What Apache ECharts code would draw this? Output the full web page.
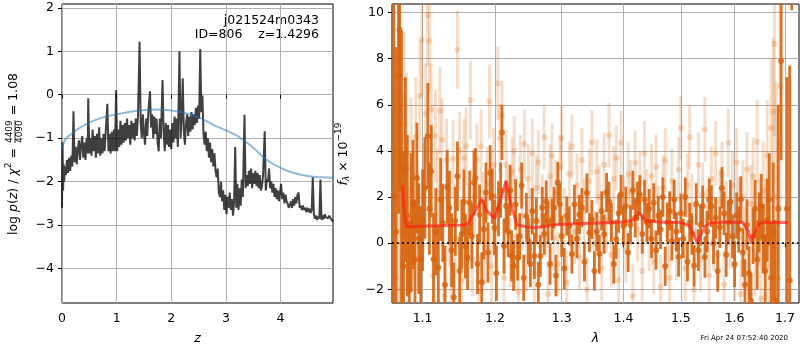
<!DOCTYPE html>
<html><head><meta charset="utf-8">
<script src="https://cdn.jsdelivr.net/npm/echarts@6/dist/echarts.min.js"></script>
<style>html,body{margin:0;padding:0;background:#fff}#c{width:800px;height:350px}</style>
</head><body><div id="c"></div>
<script>
// ---------- left panel: log p(z) ----------
const pzCurve = [
[0.00,-2.6],[0.01,-1.1],[0.02,-2.2],[0.03,-1.6],[0.04,-2.0],[0.05,-1.65],[0.07,-1.85],[0.09,-1.5],[0.11,-1.8],[0.13,-1.45],
[0.15,-1.75],[0.17,-1.4],[0.19,-1.65],[0.21,-0.38],[0.23,-1.55],[0.25,-1.2],[0.27,-1.6],[0.29,-1.25],[0.31,-1.05],[0.33,-1.5],
[0.35,-1.15],[0.37,-0.95],[0.39,-1.45],[0.41,-1.1],[0.43,-1.5],[0.45,-1.0],[0.47,-1.35],[0.48,-0.08],[0.50,-1.35],[0.52,-1.0],
[0.54,-1.4],[0.56,-0.8],[0.58,-1.3],[0.60,-0.95],[0.62,-1.45],[0.64,-0.9],[0.66,-1.35],[0.68,-0.75],[0.70,-1.4],[0.72,-1.0],
[0.74,-1.35],[0.76,-0.9],[0.78,-1.3],[0.80,-0.85],[0.83,-0.21],[0.85,-1.3],[0.87,-0.9],[0.89,-1.35],[0.91,-0.85],[0.93,-1.3],
[0.95,-0.8],[0.97,-1.3],[0.99,0.10],[1.01,-1.3],[1.03,-0.8],[1.05,-1.2],[1.07,-0.6],[1.09,-1.15],[1.11,-0.7],[1.13,-1.1],
[1.15,-0.65],[1.17,-1.05],[1.19,-0.55],[1.21,-1.0],[1.23,-0.7],[1.25,-1.15],[1.27,-0.6],[1.29,-1.0],[1.31,-0.65],[1.33,-1.05],
[1.35,-0.55],[1.37,-0.95],[1.39,-0.5],[1.42,1.22],[1.44,-0.65],[1.46,-1.0],[1.48,-0.45],[1.50,-0.9],[1.52,-1.15],[1.54,-0.55],
[1.56,-0.95],[1.58,-0.4],[1.61,0.08],[1.63,-0.75],[1.65,-0.45],[1.67,-1.0],[1.69,-0.5],[1.71,-0.9],[1.73,-0.55],[1.75,-1.1],
[1.77,-1.3],[1.79,-0.55],[1.81,-1.0],[1.84,0.34],[1.86,-0.85],[1.88,-1.3],[1.90,-0.65],[1.92,-1.15],[1.94,-0.7],[1.96,-1.2],
[1.98,-0.8],[2.00,-1.25],[2.02,-0.65],[2.04,-1.1],[2.06,-0.5],[2.08,-1.0],[2.10,-0.55],[2.12,-1.2],[2.15,1.0],[2.17,-1.0],
[2.19,-0.55],[2.21,0.38],[2.23,-0.85],[2.25,-1.15],[2.27,-0.65],[2.29,-0.45],[2.31,-0.95],[2.33,-0.5],[2.35,-0.85],[2.37,-0.4],
[2.39,-0.8],[2.41,-0.45],[2.43,-0.7],[2.45,-0.3],[2.47,-0.65],[2.49,-0.25],[2.51,-0.55],[2.53,1.05],[2.55,-0.4],[2.57,-0.02],
[2.59,-0.9],[2.61,-1.15],[2.63,-0.85],[2.65,-1.3],[2.67,-1.0],[2.69,-1.45],[2.71,-1.1],[2.73,-1.55],[2.75,-1.25],[2.77,-1.65],
[2.79,-1.35],[2.81,-1.75],[2.83,-1.9],[2.85,-1.7],[2.87,-2.25],[2.89,-2.35],[2.91,-2.0],[2.93,-2.45],[2.95,-2.2],[2.97,-2.65],
[2.99,-2.3],[3.01,-2.75],[3.03,-2.35],[3.05,-2.6],[3.07,-2.25],[3.09,-2.65],[3.11,-2.4],[3.13,-2.78],[3.15,-2.45],[3.17,-1.2],
[3.19,-2.6],[3.21,-2.05],[3.23,-2.65],[3.25,-2.15],[3.27,-2.55],[3.29,-1.95],[3.31,-2.35],[3.34,-0.46],[3.36,-2.15],[3.38,-1.85],
[3.40,-2.1],[3.42,-1.75],[3.44,-2.05],[3.46,-1.7],[3.48,-2.15],[3.50,-1.8],[3.52,-2.05],[3.54,-1.75],[3.56,-2.1],[3.58,-1.8],
[3.60,-2.15],[3.62,-1.85],[3.64,-2.2],[3.66,-2.1],[3.68,-1.85],[3.71,-0.84],[3.73,-2.2],[3.75,-1.95],[3.77,-2.0],[3.79,-1.7],
[3.81,-2.15],[3.83,-2.0],[3.85,-2.25],[3.87,-2.05],[3.89,-2.35],[3.91,-2.15],[3.93,-2.4],[3.95,-2.2],[3.97,-2.45],[3.99,-2.25],
[4.01,-2.05],[4.03,-2.4],[4.05,-2.25],[4.07,-2.5],[4.09,-2.3],[4.11,-2.45],[4.13,-2.5],[4.15,-2.6],[4.17,-2.55],[4.19,-2.45],
[4.21,-2.6],[4.23,-2.4],[4.25,-2.55],[4.27,-2.35],[4.29,-2.5],[4.31,-2.3],[4.33,-2.25],[4.35,-2.6],[4.37,-2.55],[4.39,-2.65],
[4.41,-2.55],[4.43,-2.65],[4.45,-2.6],[4.47,-2.7],[4.49,-2.6],[4.51,-2.7],[4.53,-2.62],[4.55,-2.72],[4.57,-2.65],[4.59,-1.9],
[4.61,-2.75],[4.63,-2.85],[4.65,-2.78],[4.67,-2.88],[4.69,-2.8],[4.71,-2.85],[4.73,-1.95],[4.75,-2.88],[4.77,-2.78],[4.79,-2.86],
[4.81,-2.75],[4.83,-2.82],[4.85,-2.78],[4.87,-2.84],[4.89,-2.78],[4.91,-2.83],[4.93,-2.86],[4.95,-2.9],[4.97,-2.9]
];
const priorCurve = [
[0,-1.25],[0.05,-1.05],[0.1,-0.97],[0.2,-0.88],[0.3,-0.78],[0.5,-0.64],[0.75,-0.52],[1.0,-0.45],[1.25,-0.39],[1.5,-0.35],
[1.75,-0.34],[2.0,-0.36],[2.25,-0.42],[2.5,-0.52],[2.75,-0.68],[3.0,-0.82],[3.25,-0.98],[3.5,-1.22],[3.75,-1.5],[4.0,-1.68],
[4.25,-1.8],[4.5,-1.87],[4.75,-1.9],[4.97,-1.91]
];
const zTicks = [0, 1, 2, 3, 4];
const pzTicks = [-4, -3, -2, -1, 0, 1, 2];

// ---------- right panel: spectrum ----------
const lamTicks = [1.1, 1.2, 1.3, 1.4, 1.5, 1.6, 1.7];
const fluxTicks = [-2, 0, 2, 4, 6, 8, 10];
// [lambda, flux, err]
const darkSpec = [
[1.0625,2.0,9],[1.0655,0.5,8],[1.0687,7.28,6],[1.0700,9.25,7],[1.0725,3.2,6],[1.0750,-1.0,5],[1.0775,3.19,4],[1.0800,1.2,3.5],
[1.0825,-2.05,3],[1.0850,0.9,3],[1.0875,1.68,2.8],[1.0900,-0.7,2.6],[1.0925,2.83,2.4],[1.0950,0.2,2.4],[1.0975,-0.69,2.3],
[1.1000,1.0,2.2],[1.1030,2.4,2.2],[1.1070,4.65,2.3],[1.1090,1.5,2.0],[1.1115,3.12,2.0],[1.1145,-0.69,2.0],[1.1175,0.5,1.9],
[1.1210,-1.05,1.8],[1.1240,1.9,1.8],[1.1270,0.89,1.7],[1.1300,-1.8,1.7],[1.1330,2.44,1.6],[1.1360,1.54,1.6],[1.1390,-0.3,1.6],
[1.1420,-2.34,1.5],[1.1440,0.96,1.5],[1.1470,2.9,1.5],[1.1500,-1.2,1.5],[1.1530,0.4,1.5],[1.1560,1.8,1.4],[1.1580,-0.12,1.4],
[1.1610,-0.62,1.4],[1.1640,1.75,1.4],[1.1670,0.3,1.4],[1.1700,2.62,1.4],[1.1720,2.83,1.3],[1.1750,-0.9,1.3],[1.1780,1.25,1.3],
[1.1810,-1.69,1.3],[1.1840,0.6,1.3],[1.1870,2.2,1.3],[1.1900,-0.4,1.3],[1.1930,3.05,1.2],[1.1960,2.04,1.2],[1.1990,0.68,1.2],
[1.2020,-1.3,1.2],[1.2050,1.5,1.2],[1.2080,2.3,1.2],[1.2100,4.8,1.2],[1.2130,-0.12,1.2],[1.2160,1.61,1.1],[1.2190,0.5,1.1],
[1.2220,2.3,1.1],[1.2240,-0.55,1.1],[1.2270,-0.97,1.1],[1.2300,1.68,1.1],[1.2330,-0.62,1.0],[1.2360,0.3,1.0],[1.2390,2.5,1.0],
[1.2420,-1.5,1.0],[1.2460,1.18,1.0],[1.2490,0.1,1.0],[1.2520,-0.9,1.0],[1.2550,1.39,1.0],[1.2580,-0.55,1.0],[1.2610,0.96,1.0],
[1.2640,-1.8,1.0],[1.2670,-0.55,0.9],[1.2700,1.54,0.9],[1.2730,0.4,0.9],[1.2760,1.82,0.9],[1.2790,0.89,0.9],[1.2820,-0.9,0.9],
[1.2850,1.03,0.9],[1.2880,1.54,0.9],[1.2910,-1.4,0.9],[1.2940,2.62,0.9],[1.2970,1.68,0.9],[1.3000,0.31,0.9],[1.3040,-1.1,0.9],
[1.3080,1.18,0.85],[1.3120,0.75,0.85],[1.3160,-0.47,0.85],[1.3200,1.68,0.85],[1.3240,0.2,0.85],[1.3280,1.25,0.85],[1.3320,1.54,0.85],
[1.3360,-0.8,0.85],[1.3400,2.18,0.85],[1.3440,0.46,0.85],[1.3480,1.03,0.85],[1.3520,-1.2,0.85],[1.3560,0.5,0.85],[1.3600,-0.47,0.85],
[1.3640,1.4,0.85],[1.3680,0.39,0.85],[1.3720,2.2,0.85],[1.3760,1.82,0.85],[1.3800,0.9,0.85],[1.3840,-0.9,0.85],[1.3880,0.17,0.85],
[1.3920,1.3,0.85],[1.3960,2.11,0.85],[1.4000,0.75,0.85],[1.4040,1.6,0.85],[1.4080,-0.4,0.85],[1.4120,0.8,0.85],[1.4160,2.3,0.85],
[1.4200,1.1,0.85],[1.4240,1.82,0.85],[1.4280,2.1,0.85],[1.4320,0.4,0.85],[1.4360,1.9,0.85],[1.4400,0.9,0.85],[1.4440,1.5,0.85],
[1.4480,0.2,0.85],[1.4520,1.75,0.85],[1.4560,-0.3,0.85],[1.4600,1.2,0.85],[1.4640,0.6,0.85],[1.4680,2.0,0.85],[1.4720,-1.0,0.85],
[1.4760,0.9,0.85],[1.4800,1.4,0.85],[1.4840,0.1,0.85],[1.4880,1.9,0.85],[1.4920,0.5,0.85],[1.4960,-0.6,0.85],[1.5000,1.3,0.85],
[1.5040,0.2,0.85],[1.5080,2.0,0.85],[1.5120,-0.8,0.85],[1.5160,0.9,0.85],[1.5200,0.4,0.9],[1.5240,-0.98,0.9],[1.5280,1.7,0.9],
[1.5320,-0.3,0.9],[1.5360,0.8,0.9],[1.5400,1.6,0.9],[1.5440,-0.6,0.9],[1.5480,0.5,0.9],[1.5520,1.9,0.9],[1.5560,1.61,0.9],
[1.5600,0.0,0.9],[1.5640,1.1,0.9],[1.5680,-1.2,0.9],[1.5720,0.7,0.9],[1.5760,2.4,0.9],[1.5800,1.3,0.95],[1.5840,-0.5,0.95],
[1.5880,0.9,0.95],[1.5920,1.8,0.95],[1.5960,0.3,0.95],[1.6000,-0.9,1.0],[1.6040,1.2,1.0],[1.6080,0.6,1.0],[1.6120,1.9,1.0],
[1.6160,-0.4,1.05],[1.6200,-1.8,1.1],[1.6240,0.8,1.1],[1.6280,-1.3,1.15],[1.6320,-2.5,1.2],[1.6360,0.3,1.2],[1.6400,1.5,1.25],
[1.6440,-0.7,1.3],[1.6480,0.9,1.3],[1.6520,1.6,1.4],[1.6560,0.2,1.5],[1.6600,-1.2,1.6],[1.6640,1.0,1.8],[1.6680,1.9,2.0],
[1.6720,-1.5,2.4],[1.6760,0.5,3.0],[1.6800,-2.49,3.5],[1.6860,1.5,4.5],[1.6920,7.9,4.3],[1.7040,1.5,5.7],[1.7095,-1.6,9.3],
[1.7137,13.0,2.9]
];
const lightSpec = [
[1.062,4.0,8],[1.065,-1.5,8],[1.0685,2.5,7],[1.0715,-2.0,6],[1.0745,0.5,6],[1.076,5.17,4],[1.079,3.9,3.5],[1.082,-0.5,3],
[1.085,3.3,3],[1.088,1.2,2.8],[1.091,4.6,2.6],[1.094,0.6,2.5],[1.0965,6.38,2.4],[1.099,8.82,2.4],[1.101,2.0,2.3],[1.104,5.6,2.2],
[1.1065,9.87,2.2],[1.109,8.78,2.2],[1.1115,5.8,2.0],[1.114,-1.4,2.0],[1.117,4.65,2.0],[1.120,2.2,1.9],[1.123,5.75,1.9],[1.126,4.5,1.8],
[1.129,-2.3,1.8],[1.132,3.6,1.8],[1.135,1.0,1.8],[1.138,-0.9,1.8],[1.141,3.65,1.7],[1.144,0.2,1.7],[1.147,8.39,1.7],[1.150,4.0,1.7],
[1.153,-1.6,1.7],[1.156,3.7,1.7],[1.159,4.2,1.7],[1.162,0.9,1.7],[1.165,6.2,1.7],[1.168,-0.7,1.6],[1.171,2.0,1.6],[1.174,3.6,1.6],
[1.177,-2.1,1.6],[1.180,4.2,1.6],[1.183,1.5,1.6],[1.186,-0.2,1.6],[1.189,2.6,1.6],[1.192,6.15,1.6],[1.195,-1.0,1.6],[1.198,3.4,1.6],
[1.201,0.6,1.6],[1.204,6.93,1.6],[1.207,4.55,1.5],[1.210,5.55,1.5],[1.213,-1.5,1.5],[1.216,3.4,1.5],[1.219,1.8,1.5],[1.222,-0.4,1.5],
[1.225,3.1,1.5],[1.228,4.0,1.5],[1.231,0.3,1.5],[1.234,-2.1,1.5],[1.237,3.2,1.5],[1.240,1.2,1.5],[1.243,4.3,1.5],[1.246,-0.6,1.5],
[1.249,2.8,1.5],[1.252,0.9,1.5],[1.255,3.9,1.5],[1.258,-1.3,1.5],[1.261,2.4,1.4],[1.264,3.5,1.4],[1.267,-0.1,1.4],[1.270,1.6,1.4],
[1.273,4.6,1.4],[1.276,0.8,1.4],[1.279,-2.2,1.4],[1.282,2.9,1.4],[1.285,3.8,1.4],[1.288,0.2,1.4],[1.291,2.2,1.4],[1.294,-0.9,1.4],
[1.297,3.3,1.4],[1.300,4.55,1.4],[1.304,1.0,1.4],[1.308,-1.7,1.4],[1.312,3.0,1.4],[1.316,4.18,1.4],[1.320,0.5,1.4],[1.324,2.5,1.4],
[1.328,-0.6,1.4],[1.332,3.6,1.4],[1.336,1.4,1.4],[1.340,-2.0,1.4],[1.344,2.7,1.4],[1.348,4.38,1.4],[1.352,0.0,1.4],[1.356,3.1,1.4],
[1.360,2.0,1.4],[1.364,-1.1,1.4],[1.368,3.4,1.4],[1.372,1.0,1.4],[1.376,4.68,1.4],[1.380,-0.5,1.4],[1.384,2.8,1.4],[1.388,3.7,1.4],
[1.392,-1.6,1.4],[1.396,4.34,1.4],[1.400,1.5,1.4],[1.404,-0.3,1.4],[1.408,3.0,1.4],[1.412,2.2,1.4],[1.416,-2.3,1.4],[1.420,3.5,1.4],
[1.424,0.6,1.4],[1.428,2.6,1.4],[1.432,-1.2,1.4],[1.436,3.9,1.4],[1.440,1.8,1.4],[1.444,0.2,1.4],[1.448,2.9,1.4],[1.452,-0.8,1.4],
[1.456,3.3,1.4],[1.460,1.1,1.4],[1.464,-1.9,1.4],[1.468,2.4,1.4],[1.472,3.6,1.4],[1.476,0.4,1.4],[1.480,-1.5,1.4],[1.484,2.7,1.4],
[1.488,1.3,1.4],[1.492,-0.2,1.4],[1.496,3.2,1.4],[1.500,4.99,1.4],[1.504,0.8,1.4],[1.508,-1.1,1.4],[1.512,2.5,1.4],[1.516,4.6,1.4],
[1.520,1.6,1.4],[1.524,-2.0,1.4],[1.528,0.5,1.4],[1.532,3.4,1.4],[1.536,-0.7,1.4],[1.540,2.1,1.4],[1.544,4.93,1.4],[1.548,1.0,1.4],
[1.552,-1.4,1.4],[1.556,2.8,1.4],[1.560,0.2,1.4],[1.564,3.9,1.4],[1.568,-0.5,1.4],[1.572,1.8,1.4],[1.576,3.0,1.4],[1.580,-1.8,1.5],
[1.584,1.2,1.5],[1.588,4.34,1.5],[1.592,0.4,1.5],[1.596,2.5,1.5],[1.600,-1.0,1.5],[1.604,3.5,1.5],[1.608,1.4,1.5],[1.612,-2.2,1.5],
[1.616,2.0,1.6],[1.620,0.0,1.6],[1.624,3.2,1.6],[1.628,-1.3,1.6],[1.632,1.7,1.7],[1.636,2.9,1.7],[1.640,-0.5,1.8],[1.644,4.4,1.8],
[1.648,0.9,1.9],[1.652,-2.4,2.0],[1.656,2.3,2.1],[1.660,0.6,2.2],[1.664,3.8,2.4],[1.668,-1.0,2.6],[1.672,5.0,3.0],[1.676,5.7,3.2],
[1.6785,8.65,4],[1.682,2.0,5],[1.686,-1.5,6],[1.690,6.8,6]
];
const modelSpec = [
[1.0737,2.5],[1.0765,1.2],[1.079,0.72],[1.10,0.74],[1.13,0.77],[1.155,0.79],[1.162,0.85],[1.170,1.3],[1.176,1.6],[1.181,1.92],
[1.188,1.4],[1.1996,1.08],[1.207,1.8],[1.216,2.7],[1.223,1.7],[1.232,0.8],[1.245,0.72],[1.256,0.66],[1.27,0.72],[1.29,0.8],
[1.32,0.85],[1.36,0.88],[1.40,0.92],[1.416,1.0],[1.427,1.32],[1.437,0.98],[1.46,0.92],[1.50,0.9],[1.515,0.75],[1.524,0.35],
[1.530,0.03],[1.536,0.35],[1.545,0.75],[1.555,0.9],[1.60,0.92],[1.615,0.9],[1.626,0.55],[1.633,0.02],[1.640,0.55],[1.648,0.85],
[1.66,0.9],[1.7066,0.9]
];

// ---------- build ----------
const FONT = 'DejaVu Sans';
const DARK = 'rgb(214,100,15)';
const lg = v => Math.log10(v);
const minus = v => (v < 0 ? '\u2212' + Math.abs(v) : String(v));

function errBars(color, width) {
  return function (params, api) {
    const x = api.value(0), y = api.value(1), e = api.value(2);
    const a = api.coord([x, y - e]), b = api.coord([x, y + e]);
    const cs = params.coordSys;
    if (a[0] < cs.x - 1 || a[0] > cs.x + cs.width + 1) return null;
    const cl = v => Math.max(cs.y, Math.min(cs.y + cs.height, v));
    const y1 = cl(a[1]), y2 = cl(b[1]);
    if (y1 === y2) return null;
    return { type: 'line', shape: { x1: a[0], y1: y1, x2: b[0], y2: y2 },
             style: { stroke: color, lineWidth: width } };
  };
}

const mctx = document.createElement('canvas').getContext('2d');
function measure(t, f) { mctx.font = f; return mctx.measureText(t).width; }
// rotated math-like label built from text pieces
function mathLabel(cx, cy, segs) {
  let total = 0;
  segs.forEach(s => {
    if (s.frac) { s.w = Math.max(measure(s.frac[0], s.font), measure(s.frac[1], s.font)) + 2; }
    else s.w = measure(s.text, s.font);
    total += s.w;
  });
  let x = -total / 2;
  const children = [];
  segs.forEach(s => {
    if (s.frac) {
      const mid = x + s.w / 2;
      children.push({ type: 'text', x: mid, y: -4, style: { text: s.frac[0], font: s.font, fill: '#000', align: 'center', verticalAlign: 'middle' } });
      children.push({ type: 'text', x: mid, y: 6, style: { text: s.frac[1], font: s.font, fill: '#000', align: 'center', verticalAlign: 'middle' } });
      children.push({ type: 'line', shape: { x1: x + 1, y1: 1, x2: x + s.w - 1, y2: 1 }, style: { stroke: '#000', lineWidth: 0.8 } });
    } else {
      children.push({ type: 'text', x: x, y: s.dy || 0, style: { text: s.text, font: s.font, fill: '#000', align: 'left', verticalAlign: 'middle' } });
    }
    x += s.w;
  });
  return { type: 'group', x: cx, y: cy, rotation: Math.PI / 2, children: children };
}

const N = '12.5px "DejaVu Sans"', I = 'italic 12.5px "DejaVu Sans"', S = '9px "DejaVu Sans"';
const leftTitle = mathLabel(14, 154, [
  { text: 'log ', font: N }, { text: 'p', font: I }, { text: '(', font: N }, { text: 'z', font: I },
  { text: ') / ', font: N }, { text: '\u03c7', font: I }, { text: '2', font: S, dy: -5 }, { text: ' = ', font: N },
  { frac: ['4409', '4090'], font: S }, { text: ' = 1.08', font: N }
]);
const rightTitle = mathLabel(344, 154, [
  { text: 'f', font: I }, { text: '\u03bb', font: 'italic 9px "DejaVu Sans"', dy: 3 },
  { text: ' \u00d7 10', font: N }, { text: '\u221219', font: S, dy: -5 }
]);

const axisCommon = {
  axisLine: { show: false },
  axisTick: { show: true, inside: false, length: 4, lineStyle: { color: '#000', width: 1 } },
  splitLine: { show: true, lineStyle: { color: '#b0b0b0', width: 1 } },
  axisLabel: { color: '#000', fontSize: 12.5, fontFamily: FONT }
};
function mkAxis(extra, ticks, fmt, margin) {
  return Object.assign({}, axisCommon, extra, {
    axisTick: Object.assign({}, axisCommon.axisTick, { customValues: ticks }),
    axisLabel: Object.assign({}, axisCommon.axisLabel, { customValues: ticks, formatter: fmt, margin: margin })
  });
}

const option = {
  animation: false,
  textStyle: { fontFamily: FONT },
  grid: [
    { left: 62, top: 4, width: 271, height: 300, show: true, borderColor: '#000', borderWidth: 1, backgroundColor: 'transparent' },
    { left: 392, top: 4, width: 407, height: 300, show: true, borderColor: '#000', borderWidth: 1, backgroundColor: 'transparent' }
  ],
  xAxis: [
    mkAxis({ type: 'value', gridIndex: 0, min: 0, max: 4.96, name: 'z', nameLocation: 'middle', nameGap: 29,
      nameTextStyle: { fontStyle: 'italic', fontSize: 12.5, color: '#000' } }, zTicks, v => String(v), 9),
    mkAxis({ type: 'value', gridIndex: 1, min: lg(1.0603), max: lg(1.7287), name: '\u03bb', nameLocation: 'middle', nameGap: 29,
      nameTextStyle: { fontStyle: 'italic', fontSize: 12.5, color: '#000' } }, lamTicks.map(lg), v => Math.pow(10, v).toFixed(1), 9)
  ],
  yAxis: [
    mkAxis({ type: 'value', gridIndex: 0, min: -4.79, max: 2.087 }, pzTicks, minus, 8),
    mkAxis({ type: 'value', gridIndex: 1, min: -2.59, max: 10.37 }, fluxTicks, minus, 8)
  ],
  graphic: [
    leftTitle, rightTitle,
    { type: 'text', right: 800 - 319, top: 14, style: { text: 'j021524m0343', font: N, fill: '#000' } },
    { type: 'text', right: 800 - 319, top: 28, style: { text: 'ID=806    z=1.4296', font: N, fill: '#000' } },
    { type: 'text', right: 12, top: 335, style: { text: 'Fri Apr 24 07:52:40 2020', font: '7px "DejaVu Sans"', fill: '#000' } }
  ],
  series: [
    { type: 'line', xAxisIndex: 0, yAxisIndex: 0, data: pzCurve, showSymbol: false, z: 3,
      lineStyle: { color: 'rgba(0,0,0,0.75)', width: 2 } },
    { type: 'line', xAxisIndex: 0, yAxisIndex: 0, data: priorCurve, showSymbol: false, smooth: 0.4, z: 4,
      lineStyle: { color: 'rgba(31,119,180,0.5)', width: 2 } },

    { type: 'custom', xAxisIndex: 1, yAxisIndex: 1, z: 2, encode: { x: 0, y: 1 },
      renderItem: errBars('rgba(214,100,15,0.22)', 3), data: lightSpec.map(d => [lg(d[0]), d[1], d[2]]) },
    { type: 'scatter', xAxisIndex: 1, yAxisIndex: 1, z: 2, symbolSize: 6,
      itemStyle: { color: 'rgba(214,100,15,0.28)' }, data: lightSpec.map(d => [lg(d[0]), d[1]]) },
    { type: 'custom', xAxisIndex: 1, yAxisIndex: 1, z: 3, encode: { x: 0, y: 1 },
      renderItem: errBars('rgba(214,100,15,0.9)', 2.8), data: darkSpec.map(d => [lg(d[0]), d[1], d[2]]) },
    { type: 'scatter', xAxisIndex: 1, yAxisIndex: 1, z: 3, symbolSize: 6,
      itemStyle: { color: DARK }, data: darkSpec.map(d => [lg(d[0]), d[1]]) },
    { type: 'line', xAxisIndex: 1, yAxisIndex: 1, z: 5, showSymbol: false, data: modelSpec.map(d => [lg(d[0]), d[1]]),
      lineStyle: { color: 'rgba(255,30,20,0.65)', width: 3 },
      markLine: { silent: true, symbol: 'none', label: { show: false },
        lineStyle: { color: '#000', type: [2, 3], width: 1.6 }, data: [{ yAxis: 0 }] } }
  ]
};
const chart = echarts.init(document.getElementById('c'), null, { renderer: 'canvas' });
chart.setOption(option);
</script></body></html>
